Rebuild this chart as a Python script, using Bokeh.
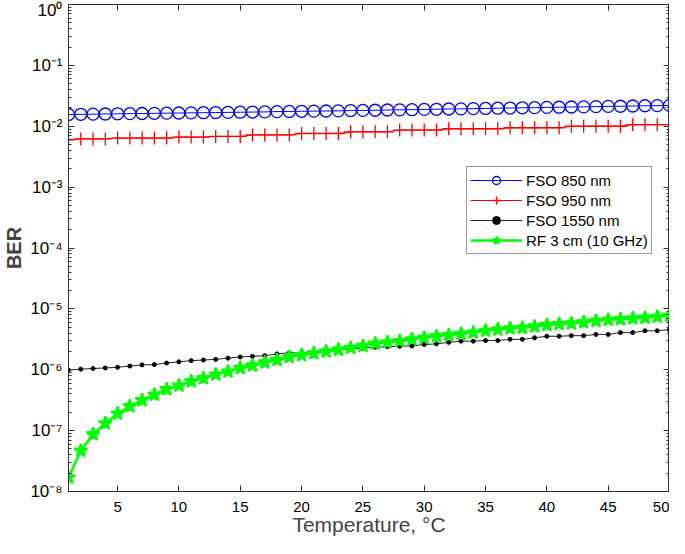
from bokeh.plotting import figure
from bokeh.models import Range1d, FixedTicker, LinearAxis, LogAxis, CustomJSTickFormatter
from bokeh.embed import file_html
from bokeh.resources import INLINE

temperature = list(range(1, 51))

fso_850 = [0.0156, 0.0157, 0.0158, 0.0159, 0.0160, 0.0161, 0.0162, 0.0163, 0.0164, 0.0165,
           0.0166, 0.0167, 0.0168, 0.0169, 0.0170, 0.0171, 0.0172, 0.0174, 0.0175, 0.0176,
           0.0177, 0.0178, 0.0179, 0.0181, 0.0182, 0.0183, 0.0185, 0.0186, 0.0187, 0.0189,
           0.0190, 0.0192, 0.0193, 0.0195, 0.0196, 0.0198, 0.0199, 0.0201, 0.0202, 0.0204,
           0.0205, 0.0207, 0.0208, 0.0210, 0.0212, 0.0213, 0.0215, 0.0217, 0.0218, 0.0220]

fso_950 = [0.0060, 0.0062, 0.0062, 0.0062, 0.0064, 0.0064, 0.0064, 0.0064, 0.0064, 0.00665,
           0.00665, 0.00665, 0.0068, 0.0068, 0.0068, 0.0072, 0.0072, 0.0072, 0.0072, 0.0076,
           0.0076, 0.0076, 0.0076, 0.0081, 0.0081, 0.0081, 0.0081, 0.00865, 0.00865, 0.00865,
           0.00865, 0.0091, 0.0091, 0.0091, 0.0091, 0.0091, 0.00945, 0.00945, 0.00945, 0.00945,
           0.00945, 0.0100, 0.0100, 0.0100, 0.0100, 0.0100, 0.0106, 0.0106, 0.0106, 0.0106]

fso_1550 = [9.89e-7, 1.023e-6, 1.047e-6, 1.072e-6, 1.096e-6, 1.148e-6, 1.202e-6, 1.216e-6, 1.288e-6, 1.349e-6,
            1.413e-6, 1.445e-6, 1.479e-6, 1.549e-6, 1.622e-6, 1.660e-6, 1.698e-6, 1.820e-6, 1.905e-6, 1.905e-6,
            1.995e-6, 2.089e-6, 2.089e-6, 2.188e-6, 2.265e-6, 2.344e-6, 2.399e-6, 2.427e-6, 2.455e-6, 2.600e-6,
            2.661e-6, 2.818e-6, 2.951e-6, 2.951e-6, 3.020e-6, 3.020e-6, 3.162e-6, 3.162e-6, 3.350e-6, 3.548e-6,
            3.548e-6, 3.631e-6, 3.631e-6, 3.802e-6, 3.802e-6, 4.074e-6, 4.074e-6, 4.365e-6, 4.365e-6, 4.571e-6]

rf_3cm = [1.70e-8, 4.68e-8, 8.71e-8, 1.318e-7, 1.905e-7, 2.512e-7, 3.162e-7, 3.890e-7, 4.786e-7, 5.495e-7,
          6.457e-7, 7.244e-7, 8.318e-7, 9.333e-7, 1.072e-6, 1.175e-6, 1.318e-6, 1.445e-6, 1.622e-6, 1.738e-6,
          1.862e-6, 1.995e-6, 2.138e-6, 2.291e-6, 2.455e-6, 2.692e-6, 2.818e-6, 2.951e-6, 3.162e-6, 3.350e-6,
          3.548e-6, 3.715e-6, 3.890e-6, 4.074e-6, 4.365e-6, 4.571e-6, 4.786e-6, 4.898e-6, 5.129e-6, 5.433e-6,
          5.623e-6, 5.754e-6, 6.026e-6, 6.310e-6, 6.607e-6, 6.761e-6, 6.998e-6, 7.161e-6, 7.413e-6, 7.762e-6]

x_ticks = [5, 10, 15, 20, 25, 30, 35, 40, 45, 50]
y_ticks = [1e-8, 1e-7, 1e-6, 1e-5, 1e-4, 1e-3, 1e-2, 1e-1, 1e0]
y_minor = [m * d for d in y_ticks[:-1] for m in range(2, 10)]

FONT = "Liberation Sans"
AXIS_COLOR = "#333333"

p = figure(width=669, height=538, x_range=Range1d(1, 50), y_range=Range1d(1e-8, 1),
           y_axis_type="log", output_backend="svg", toolbar_location=None,
           min_border_left=56, min_border_right=0, min_border_top=4, min_border_bottom=40)
p.xgrid.visible = False
p.ygrid.visible = False
p.outline_line_color = AXIS_COLOR
p.background_fill_color = "white"
p.border_fill_color = "white"

sup_code = """
const e = Math.round(Math.log10(tick));
const sup = {'-':'\u207b','0':'\u2070','1':'\u00b9','2':'\u00b2','3':'\u00b3','4':'\u2074','5':'\u2075','6':'\u2076','7':'\u2077','8':'\u2078','9':'\u2079'};
return '10' + String(e).split('').map(c => sup[c]).join('');
"""

# lines + markers
p.line(temperature, fso_850, line_color="#0000ff", line_width=1, legend_label="FSO 850 nm")
p.scatter(temperature, fso_850, marker="circle", size=12, line_color="#0000ff", fill_color=None,
          line_width=1.3, legend_label="FSO 850 nm")
p.line(temperature, fso_950, line_color="#ff0000", line_width=1, legend_label="FSO 950 nm")
p.scatter(temperature, fso_950, marker="cross", size=13, line_color="#ff0000",
          line_width=1.3, legend_label="FSO 950 nm")
p.line(temperature, fso_1550, line_color="#222222", line_width=1, legend_label="FSO 1550 nm")
p.scatter(temperature, fso_1550, marker="circle", size=4, line_color="black", fill_color="black",
          legend_label="FSO 1550 nm")
p.line(temperature, rf_3cm, line_color="#00ff00", line_width=2.5, legend_label="RF 3 cm (10 GHz)")
p.scatter(temperature, rf_3cm, marker="star", size=14, line_color="#00ff00", fill_color="#00ff00",
          line_width=2, legend_label="RF 3 cm (10 GHz)")

def style_axis(ax):
    ax.axis_line_color = AXIS_COLOR
    ax.major_tick_line_color = AXIS_COLOR
    ax.minor_tick_line_color = AXIS_COLOR
    ax.major_tick_in = 6
    ax.major_tick_out = 0
    ax.minor_tick_in = 3
    ax.minor_tick_out = 0
    ax.major_label_text_font = FONT
    ax.major_label_text_color = "black"

# bottom axis
xa = p.xaxis[0]
xa.ticker = FixedTicker(ticks=x_ticks)
style_axis(xa)
xa.major_label_text_font_size = "15px"
xa.major_label_text_line_height = 1.0
xa.major_label_standoff = 10
xa.axis_label = "Temperature, \u00b0C"
xa.axis_label_text_font = FONT
xa.axis_label_text_font_size = "21px"
xa.axis_label_text_line_height = 1.0
xa.axis_label_text_font_style = "normal"
xa.axis_label_standoff = -2

# left axis
ya = p.yaxis[0]
ya.ticker = FixedTicker(ticks=y_ticks, minor_ticks=y_minor)
ya.formatter = CustomJSTickFormatter(code=sup_code)
style_axis(ya)
ya.major_label_text_font_size = "17px"
ya.major_label_standoff = 6
ya.axis_label = "BER"
ya.axis_label_text_font = FONT
ya.axis_label_text_font_size = "20px"
ya.axis_label_text_font_style = "bold"
ya.axis_label_standoff = 2

# top and right box axes (ticks only)
top = LinearAxis(ticker=FixedTicker(ticks=x_ticks),
                 formatter=CustomJSTickFormatter(code="return ''"))
style_axis(top)
top.major_label_text_font_size = "1px"
top.major_label_standoff = 0
p.add_layout(top, "above")

right = LogAxis(ticker=FixedTicker(ticks=y_ticks, minor_ticks=y_minor),
                formatter=CustomJSTickFormatter(code="return ''"))
style_axis(right)
right.major_label_text_font_size = "1px"
right.major_label_standoff = 0
p.add_layout(right, "right")

# legend
lg = p.legend[0]
lg.location = (398, 237)
lg.label_text_font = FONT
lg.label_text_font_size = "15px"
lg.label_text_color = "black"
lg.glyph_width = 52
lg.glyph_height = 20
lg.label_height = 20
lg.label_standoff = 4
lg.spacing = 0
lg.padding = 3
lg.margin = 0
lg.border_line_color = "#333333"
lg.border_line_width = 1
lg.background_fill_color = "white"
lg.background_fill_alpha = 1

open("out.html", "w").write(file_html(p, INLINE))
